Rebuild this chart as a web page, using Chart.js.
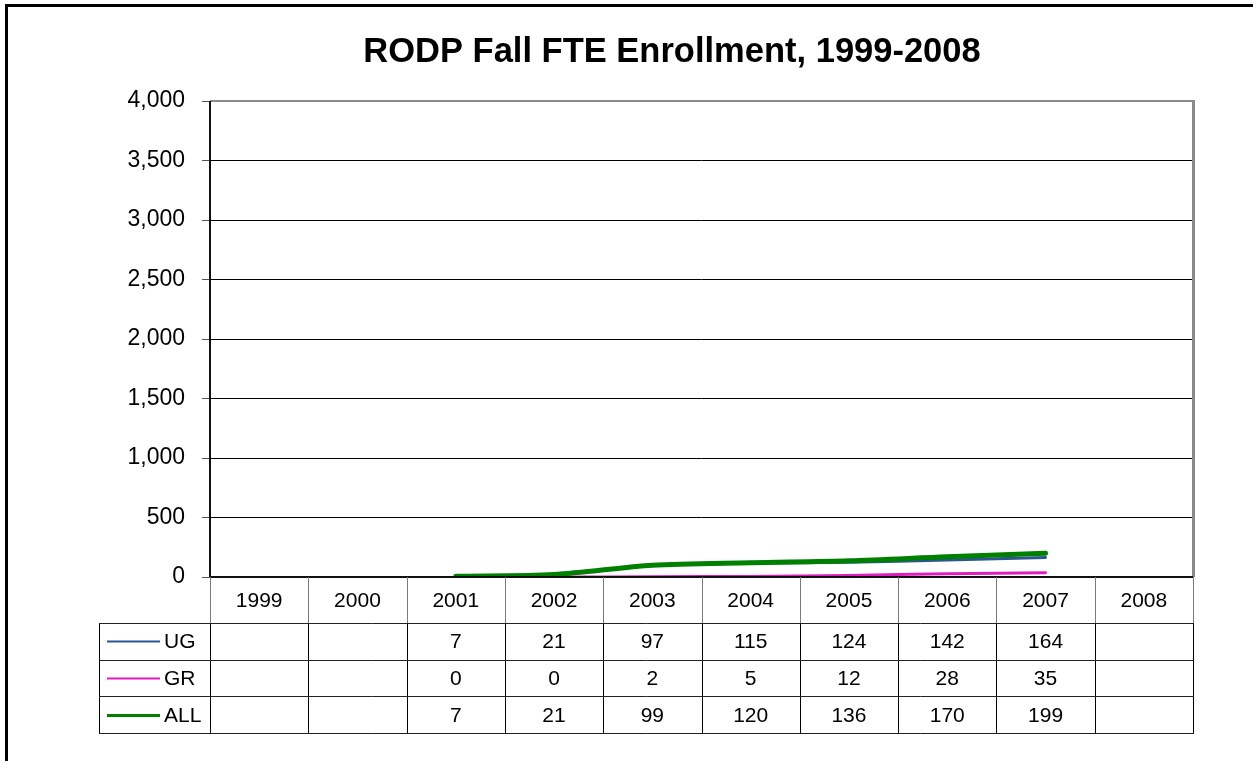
<!DOCTYPE html>
<html>
<head>
<meta charset="utf-8">
<title>RODP Fall FTE Enrollment, 1999-2008</title>
<script src="https://cdn.jsdelivr.net/npm/chart.js@4.4.1/dist/chart.umd.min.js"></script>
<style>
  html, body { margin: 0; padding: 0; background: #fff; overflow: hidden; }
  #wrap { position: relative; width: 1253px; height: 761px; }
  canvas { display: block; }
</style>
</head>
<body>
<div id="wrap"><canvas id="c" width="1253" height="761"></canvas></div>
<script>
// Fall FTE enrollment by level (null = no enrollment reported)
const years = ['1999', '2000', '2001', '2002', '2003', '2004', '2005', '2006', '2007', '2008'];
const ugValues  = [null, null, 7, 21, 97, 115, 124, 142, 164, null];
const grValues  = [null, null, 0, 0, 2, 5, 12, 28, 35, null];
const allValues = [null, null, 7, 21, 99, 120, 136, 170, 199, null];
const yTicks = [0, 500, 1000, 1500, 2000, 2500, 3000, 3500, 4000];
const chartTitle = 'RODP Fall FTE Enrollment, 1999-2008';

const seriesRows = [
  { label: 'UG',  values: ugValues,  color: '#2B5590', width: 3, legendWidth: 2 },
  { label: 'GR',  values: grValues,  color: '#E21DC0', width: 3, legendWidth: 2 },
  { label: 'ALL', values: allValues, color: '#008000', width: 5, legendWidth: 3 }
];

const tableFont = '21px "Liberation Sans", Arial, sans-serif';
const fmt = v => v.toLocaleString('en-US');

// Frame, title, plot border and the data table under the x axis
const decorations = {
  id: 'decorations',
  beforeDraw(chart) {
    const ctx = chart.ctx;
    ctx.save();
    ctx.fillStyle = '#fff';
    ctx.fillRect(0, 0, chart.width, chart.height);
    ctx.strokeStyle = '#000';
    ctx.lineWidth = 3;
    ctx.strokeRect(6.5, 5.5, chart.width + 40, chart.height + 40);
    ctx.restore();
  },
  afterDraw(chart) {
    const ctx = chart.ctx;
    const a = chart.chartArea;
    const xs = chart.scales.x;
    const step = (a.right - a.left) / years.length;

    ctx.save();
    // title
    ctx.fillStyle = '#000';
    ctx.font = 'bold 34.5px "Liberation Sans", Arial, sans-serif';
    ctx.textAlign = 'center';
    ctx.textBaseline = 'alphabetic';
    ctx.fillText(chartTitle, 672, 62);

    // plot border: grey top and right, black bottom and left
    ctx.strokeStyle = '#8a8a8a';
    ctx.lineWidth = 2;
    ctx.beginPath();
    ctx.moveTo(a.left, a.top);
    ctx.lineTo(a.right, a.top);
    ctx.stroke();
    ctx.lineWidth = 3;
    ctx.beginPath();
    ctx.moveTo(a.right + 0.5, a.top - 1);
    ctx.lineTo(a.right + 0.5, a.bottom);
    ctx.stroke();
    ctx.strokeStyle = '#111';
    ctx.lineWidth = 2;
    ctx.beginPath();
    ctx.moveTo(a.left, a.bottom);
    ctx.lineTo(a.right, a.bottom);
    ctx.moveTo(a.left, a.top);
    ctx.lineTo(a.left, a.bottom);
    ctx.stroke();

    // table geometry
    const headTop = a.bottom;
    const headBottom = headTop + 46;
    const rowH = 36.7;
    const tableBottom = headBottom + rowH * seriesRows.length;
    const legendLeft = 99;

    ctx.lineWidth = 1;
    // header verticals (grey)
    ctx.strokeStyle = '#7a7a7a';
    ctx.beginPath();
    for (let i = 0; i <= years.length; i++) {
      const x = Math.round(a.left + i * step) + 0.5;
      ctx.moveTo(x, headTop);
      ctx.lineTo(x, headBottom);
    }
    ctx.stroke();

    // body verticals (black)
    ctx.strokeStyle = '#000';
    ctx.beginPath();
    ctx.moveTo(legendLeft + 0.5, headBottom);
    ctx.lineTo(legendLeft + 0.5, tableBottom);
    for (let i = 0; i <= years.length; i++) {
      const x = Math.round(a.left + i * step) + 0.5;
      ctx.moveTo(x, headBottom);
      ctx.lineTo(x, tableBottom);
    }
    ctx.stroke();

    // horizontals
    ctx.strokeStyle = '#222';
    ctx.beginPath();
    for (let r = 0; r <= seriesRows.length; r++) {
      const y = Math.round(headBottom + r * rowH) + 0.5;
      ctx.moveTo(legendLeft, y);
      ctx.lineTo(a.right + 1, y);
    }
    ctx.stroke();

    // header labels
    ctx.fillStyle = '#000';
    ctx.font = tableFont;
    ctx.textAlign = 'center';
    ctx.textBaseline = 'middle';
    years.forEach((yr, i) => {
      ctx.fillText(yr, xs.getPixelForValue(i), (headTop + headBottom) / 2 + 1);
    });

    // series rows
    seriesRows.forEach((s, r) => {
      const cy = headBottom + r * rowH + rowH / 2 + 1;
      ctx.strokeStyle = s.color;
      ctx.lineWidth = s.legendWidth;
      ctx.beginPath();
      ctx.moveTo(107, Math.round(cy) - 0.5);
      ctx.lineTo(160, Math.round(cy) - 0.5);
      ctx.stroke();
      ctx.textAlign = 'left';
      ctx.fillText(s.label, 164, cy);
      ctx.textAlign = 'center';
      s.values.forEach((v, i) => {
        if (v !== null) ctx.fillText(fmt(v), xs.getPixelForValue(i), cy);
      });
    });
    ctx.restore();
  }
};

new Chart(document.getElementById('c'), {
  type: 'line',
  data: {
    labels: years,
    datasets: seriesRows.map((s, idx) => ({
      label: s.label,
      data: s.values,
      borderColor: s.color,
      backgroundColor: s.color,
      borderWidth: s.width,
      pointRadius: 0,
      tension: 0.3,
      borderCapStyle: 'round',
      spanGaps: false,
      order: [2, 3, 1][idx]
    }))
  },
  options: {
    responsive: false,
    animation: false,
    devicePixelRatio: 1,
    layout: { padding: { top: 101, right: 60, bottom: 184, left: 0 } },
    plugins: {
      legend: { display: false },
      title: { display: false },
      tooltip: { enabled: false }
    },
    scales: {
      x: {
        type: 'category',
        offset: true,
        ticks: { display: false },
        grid: { display: false, drawTicks: false },
        border: { display: false },
        afterFit(scale) { scale.height = 0; }
      },
      y: {
        min: 0,
        max: 4000,
        afterBuildTicks(scale) { scale.ticks = yTicks.map(v => ({ value: v })); },
        ticks: {
          color: '#000',
          padding: 17,
          font: { family: '"Liberation Sans", Arial, sans-serif', size: 23 },
          callback: v => fmt(v)
        },
        grid: { color: '#000', lineWidth: 1, tickLength: 8, tickColor: '#555' },
        border: { display: false },
        afterFit(scale) { scale.width = 210; }
      }
    }
  },
  plugins: [decorations]
});
</script>
</body>
</html>
